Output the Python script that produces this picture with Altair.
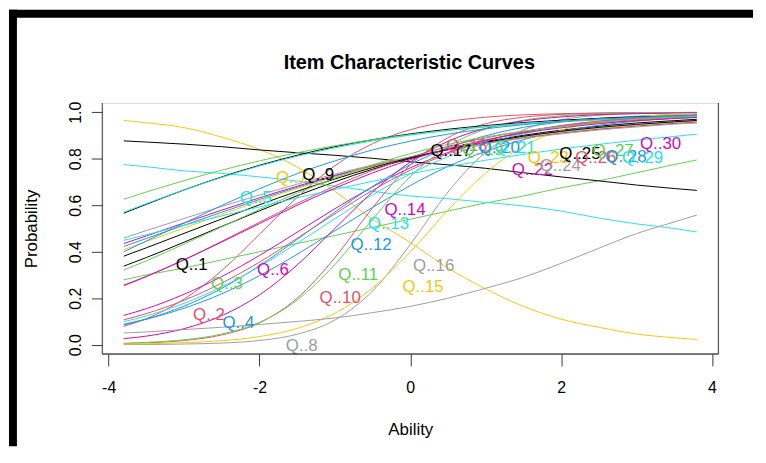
import altair as alt
import pandas as pd

# ---- data ----
ability = [-3.8, -3.5, -3.0, -2.5, -2.0, -1.5, -1.0, -0.5, 0.0, 0.5, 1.0, 1.5, 2.0, 2.5, 3.0, 3.5, 3.8]

q1 = [0.338, 0.375, 0.441, 0.509, 0.576, 0.641, 0.701, 0.755, 0.801, 0.841, 0.874, 0.901, 0.923, 0.940, 0.954, 0.964, 0.970]
q2 = [0.079, 0.112, 0.196, 0.319, 0.475, 0.634, 0.770, 0.865, 0.925, 0.960, 0.979, 0.989, 0.994, 0.997, 0.998, 0.999, 0.999]
q3 = [0.279, 0.300, 0.330, 0.365, 0.400, 0.435, 0.470, 0.505, 0.540, 0.575, 0.610, 0.640, 0.675, 0.705, 0.740, 0.775, 0.795]
q4 = [0.088, 0.110, 0.157, 0.219, 0.297, 0.389, 0.490, 0.591, 0.685, 0.767, 0.832, 0.882, 0.918, 0.944, 0.962, 0.975, 0.980]
q5 = [0.775, 0.766, 0.748, 0.737, 0.722, 0.704, 0.682, 0.660, 0.640, 0.628, 0.612, 0.597, 0.575, 0.545, 0.520, 0.500, 0.485]
q6 = [0.126, 0.155, 0.217, 0.293, 0.384, 0.484, 0.585, 0.679, 0.761, 0.827, 0.878, 0.915, 0.942, 0.961, 0.973, 0.982, 0.986]
q7 = [0.965, 0.955, 0.934, 0.893, 0.840, 0.765, 0.660, 0.540, 0.440, 0.330, 0.240, 0.165, 0.110, 0.075, 0.046, 0.030, 0.022]
q8 = [0.001, 0.001, 0.003, 0.007, 0.018, 0.045, 0.106, 0.231, 0.431, 0.657, 0.828, 0.924, 0.968, 0.987, 0.995, 0.998, 0.999]
q9 = [0.877, 0.872, 0.863, 0.852, 0.838, 0.826, 0.815, 0.802, 0.787, 0.774, 0.759, 0.740, 0.722, 0.705, 0.687, 0.672, 0.664]
q10 = [0.005, 0.008, 0.018, 0.042, 0.094, 0.200, 0.374, 0.589, 0.774, 0.891, 0.951, 0.979, 0.991, 0.996, 0.998, 0.999, 1.000]
q11 = [0.006, 0.010, 0.021, 0.046, 0.096, 0.192, 0.345, 0.540, 0.723, 0.853, 0.928, 0.966, 0.985, 0.993, 0.997, 0.999, 0.999]
q12 = [0.085, 0.110, 0.166, 0.242, 0.340, 0.453, 0.571, 0.681, 0.775, 0.847, 0.899, 0.935, 0.958, 0.974, 0.983, 0.990, 0.992]
q13 = [0.099, 0.124, 0.178, 0.249, 0.336, 0.437, 0.542, 0.645, 0.735, 0.809, 0.866, 0.908, 0.938, 0.959, 0.973, 0.982, 0.986]
q14 = [0.026, 0.037, 0.069, 0.125, 0.214, 0.343, 0.500, 0.657, 0.786, 0.875, 0.931, 0.963, 0.980, 0.990, 0.994, 0.997, 0.998]
q15 = [0.003, 0.004, 0.009, 0.017, 0.035, 0.070, 0.135, 0.244, 0.399, 0.579, 0.739, 0.854, 0.923, 0.962, 0.981, 0.991, 0.994]
q16 = [0.050, 0.055, 0.065, 0.075, 0.087, 0.100, 0.115, 0.138, 0.165, 0.200, 0.243, 0.290, 0.350, 0.415, 0.478, 0.528, 0.558]
q17 = [0.566, 0.604, 0.666, 0.722, 0.772, 0.815, 0.852, 0.882, 0.907, 0.927, 0.943, 0.956, 0.966, 0.974, 0.980, 0.984, 0.987]
q18 = [0.253, 0.293, 0.365, 0.445, 0.527, 0.608, 0.683, 0.750, 0.807, 0.853, 0.890, 0.918, 0.940, 0.956, 0.968, 0.977, 0.981]
q19 = [0.626, 0.657, 0.706, 0.751, 0.791, 0.826, 0.856, 0.882, 0.904, 0.922, 0.937, 0.949, 0.959, 0.967, 0.973, 0.979, 0.981]
q20 = [0.423, 0.457, 0.514, 0.570, 0.625, 0.677, 0.725, 0.768, 0.806, 0.839, 0.868, 0.892, 0.912, 0.929, 0.942, 0.954, 0.959]
q21 = [0.570, 0.607, 0.666, 0.720, 0.769, 0.811, 0.847, 0.877, 0.902, 0.922, 0.939, 0.952, 0.962, 0.971, 0.977, 0.982, 0.985]
q22 = [0.435, 0.468, 0.524, 0.579, 0.632, 0.682, 0.728, 0.770, 0.807, 0.839, 0.867, 0.891, 0.911, 0.927, 0.941, 0.952, 0.958]
q23 = [0.409, 0.444, 0.502, 0.561, 0.618, 0.672, 0.721, 0.766, 0.806, 0.840, 0.869, 0.894, 0.914, 0.931, 0.944, 0.956, 0.961]
q24 = [0.459, 0.491, 0.543, 0.595, 0.644, 0.691, 0.734, 0.773, 0.808, 0.839, 0.865, 0.888, 0.907, 0.924, 0.937, 0.949, 0.954]
q25 = [0.381, 0.417, 0.479, 0.541, 0.602, 0.660, 0.713, 0.762, 0.804, 0.840, 0.871, 0.897, 0.918, 0.935, 0.948, 0.959, 0.965]
q26 = [0.107, 0.134, 0.191, 0.265, 0.355, 0.458, 0.563, 0.664, 0.751, 0.822, 0.876, 0.915, 0.943, 0.962, 0.975, 0.983, 0.987]
q27 = [0.321, 0.361, 0.433, 0.507, 0.582, 0.652, 0.717, 0.774, 0.822, 0.862, 0.894, 0.919, 0.939, 0.954, 0.965, 0.974, 0.978]
q28 = [0.400, 0.446, 0.523, 0.599, 0.671, 0.736, 0.791, 0.838, 0.876, 0.906, 0.929, 0.947, 0.961, 0.971, 0.978, 0.984, 0.987]
q29 = [0.449, 0.473, 0.514, 0.554, 0.593, 0.632, 0.668, 0.703, 0.736, 0.766, 0.794, 0.819, 0.842, 0.862, 0.880, 0.896, 0.906]
q30 = [0.256, 0.294, 0.365, 0.442, 0.521, 0.600, 0.673, 0.739, 0.796, 0.843, 0.881, 0.911, 0.933, 0.951, 0.964, 0.973, 0.978]

items = ["Q..1", "Q..2", "Q..3", "Q..4", "Q..5", "Q..6", "Q..7", "Q..8", "Q..9", "Q..10",
         "Q..11", "Q..12", "Q..13", "Q..14", "Q..15", "Q..16", "Q..17", "Q..18", "Q..19", "Q..20",
         "Q..21", "Q..22", "Q..23", "Q..24", "Q..25", "Q..26", "Q..27", "Q..28", "Q..29", "Q..30"]

# label positions (ability, probability)
label_x = [-2.90, -2.67, -2.43, -2.28, -2.05, -1.82, -1.57, -1.44, -1.22, -0.93,
           -0.69, -0.52, -0.29, -0.07, 0.17, 0.31, 0.54, 0.75, 0.96, 1.18,
           1.39, 1.62, 1.83, 1.99, 2.25, 2.46, 2.69, 2.86, 3.08, 3.32]
label_y = [0.342, 0.129, 0.260, 0.095, 0.630, 0.320, 0.715, -0.005, 0.728, 0.200,
           0.300, 0.430, 0.520, 0.580, 0.250, 0.337, 0.834, 0.856, 0.838, 0.847,
           0.847, 0.750, 0.805, 0.770, 0.822, 0.805, 0.834, 0.809, 0.805, 0.864]

x_ticks = [-4, -2, 0, 2, 4]
y_ticks = [0.0, 0.2, 0.4, 0.6, 0.8, 1.0]
title_text = ["Item Characteristic Curves"]

# ---- styling ----
palette = ["#000000", "#DF536B", "#61D04F", "#2297E6", "#28E2E5", "#CD0BBC", "#F5C710", "#9E9E9E"]
item_colors = [palette[i % 8] for i in range(len(items))]
FONT = "Liberation Sans, Arial, Helvetica, sans-serif"
W, H = 621, 253
PAD_L, PAD_T, PAD_R, PAD_B = 95, 94, 40, 93
BOX = "#3a3a3a"

curves = [q1, q2, q3, q4, q5, q6, q7, q8, q9, q10, q11, q12, q13, q14, q15,
          q16, q17, q18, q19, q20, q21, q22, q23, q24, q25, q26, q27, q28, q29, q30]
rows = []
for k, (name, vals) in enumerate(zip(items, curves)):
    for xv, pv in zip(ability, vals):
        rows.append({"item": name, "k": k, "ability": xv, "prob": pv})
df = pd.DataFrame(rows)
labels_df = pd.DataFrame({"item": items, "ability": label_x, "prob": label_y})
one = pd.DataFrame({"d": [0]})
title_df = pd.DataFrame({"t": title_text})

xscale = alt.Scale(domain=[-4.085, 4.085], nice=False, zero=False)
yscale = alt.Scale(domain=[-0.04, 1.04], nice=False, zero=False)
cscale = alt.Scale(domain=items, range=item_colors)

x_axis = alt.Axis(values=x_ticks, labelExpr="'' + datum.value", tickSize=12, labelPadding=14,
                  domain=False, grid=False, tickColor=BOX, labelFont=FONT, labelFontSize=16,
                  labelColor="black", title="Ability", titleFont=FONT, titleFontSize=17,
                  titleFontWeight="normal", titleColor="black", titleX=W / 2, titleY=81,
                  titleAlign="center", titleBaseline="alphabetic")
y_axis = alt.Axis(values=y_ticks, format=".1f", labelAngle=-90, labelAlign="center",
                  labelBaseline="bottom", tickSize=11, labelPadding=8, domain=False, grid=False,
                  tickColor=BOX, labelFont=FONT, labelFontSize=16, labelColor="black",
                  title="Probability", titleFont=FONT, titleFontSize=17, titleFontWeight="normal",
                  titleColor="black", titleX=-66, titleY=H / 2, titleAngle=-90,
                  titleAlign="center", titleBaseline="alphabetic")

lines = alt.Chart(df).mark_line(strokeWidth=1, interpolate="monotone").encode(
    x=alt.X("ability:Q", scale=xscale, axis=x_axis),
    y=alt.Y("prob:Q", scale=yscale, axis=y_axis),
    color=alt.Color("item:N", scale=cscale, legend=None),
    order=alt.Order("ability:Q"),
)

texts = alt.Chart(labels_df).mark_text(font=FONT, fontSize=17, align="center", baseline="middle").encode(
    x=alt.X("ability:Q", scale=xscale),
    y=alt.Y("prob:Q", scale=yscale),
    text="item:N",
    color=alt.Color("item:N", scale=cscale, legend=None),
)

title_mark = alt.Chart(title_df).mark_text(font=FONT, fontSize=20, fontWeight="bold", align="center",
                                           baseline="alphabetic", color="black").encode(
    x=alt.value(W / 2 - 1), y=alt.value(-34.5), text="t:N")

# plot frame (left, right, bottom) as in the R plot
left_line = alt.Chart(one).mark_rule(color=BOX, strokeWidth=1).encode(
    x=alt.value(0), y=alt.value(0), y2=alt.value(H))
right_line = alt.Chart(one).mark_rule(color=BOX, strokeWidth=1).encode(
    x=alt.value(W), y=alt.value(0), y2=alt.value(H))
bottom_line = alt.Chart(one).mark_rule(color="black", strokeWidth=1).encode(
    x=alt.value(0), x2=alt.value(W), y=alt.value(H))

# thick black window edges visible in the screenshot
top_bar = alt.Chart(one).mark_rule(color="black", strokeWidth=8).encode(
    x=alt.value(-94), x2=alt.value(656), y=alt.value(-90))
left_bar = alt.Chart(one).mark_rule(color="black", strokeWidth=8).encode(
    x=alt.value(-90), y=alt.value(-94), y2=alt.value(H + PAD_B))

chart = alt.layer(lines, texts, title_mark, left_line, right_line, bottom_line, top_bar, left_bar).properties(
    width=W, height=H,
    autosize=alt.AutoSizeParams(type="none"),
    padding={"left": PAD_L, "top": PAD_T, "right": PAD_R, "bottom": PAD_B},
).configure_view(stroke=None).configure(background="white")

chart.save("out.html", embed_options={"renderer": "svg", "actions": False})
